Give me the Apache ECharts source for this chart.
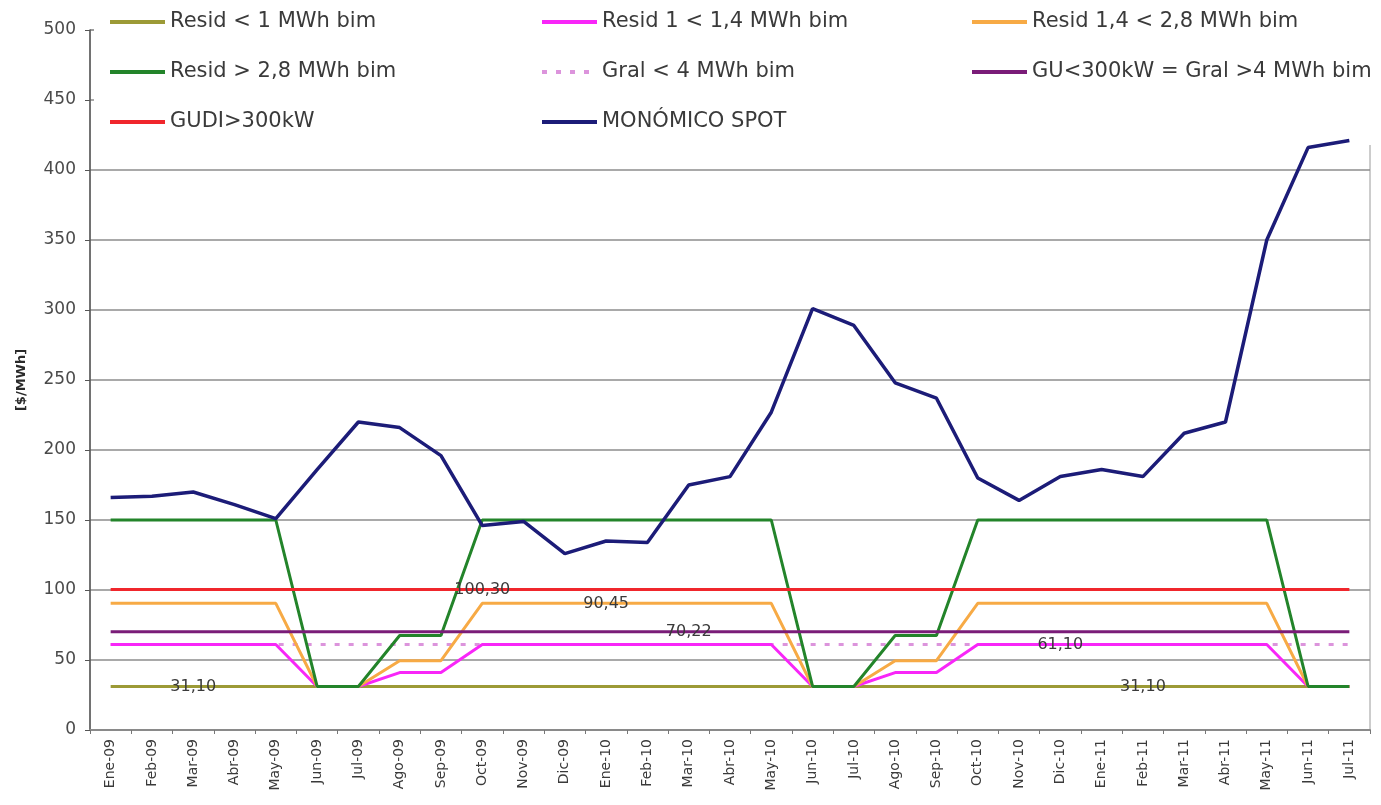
<!DOCTYPE html>
<html>
<head>
<meta charset="utf-8">
<script src="https://cdn.jsdelivr.net/npm/echarts@6/dist/echarts.min.js"></script>
<style>
  html, body { margin: 0; padding: 0; background: #ffffff; }
  #chart { width: 1381px; height: 805px; }
</style>
</head>
<body>
<div id="chart"></div>
<script>
// ---------------- DATA ----------------
const categories = ['Ene-09','Feb-09','Mar-09','Abr-09','May-09','Jun-09','Jul-09','Ago-09','Sep-09','Oct-09','Nov-09','Dic-09',
  'Ene-10','Feb-10','Mar-10','Abr-10','May-10','Jun-10','Jul-10','Ago-10','Sep-10','Oct-10','Nov-10','Dic-10',
  'Ene-11','Feb-11','Mar-11','Abr-11','May-11','Jun-11','Jul-11'];

const yTicks = [0, 50, 100, 150, 200, 250, 300, 350, 400, 450, 500];

const residLt1 = [31.1,31.1,31.1,31.1,31.1,31.1,31.1,31.1,31.1,31.1,31.1,31.1,31.1,31.1,31.1,31.1,31.1,31.1,31.1,31.1,31.1,31.1,31.1,31.1,31.1,31.1,31.1,31.1,31.1,31.1,31.1];
const resid1to14 = [61.1,61.1,61.1,61.1,61.1,31.1,31.1,41,41,61.1,61.1,61.1,61.1,61.1,61.1,61.1,61.1,31.1,31.1,41,41,61.1,61.1,61.1,61.1,61.1,61.1,61.1,61.1,31.1,31.1];
const resid14to28 = [90.45,90.45,90.45,90.45,90.45,31.1,31.1,49.5,49.5,90.45,90.45,90.45,90.45,90.45,90.45,90.45,90.45,31.1,31.1,49.5,49.5,90.45,90.45,90.45,90.45,90.45,90.45,90.45,90.45,31.1,31.1];
const residGt28 = [150,150,150,150,150,31.1,31.1,67.5,67.5,150,150,150,150,150,150,150,150,31.1,31.1,67.5,67.5,150,150,150,150,150,150,150,150,31.1,31.1];
const gralLt4 = [61.1,61.1,61.1,61.1,61.1,61.1,61.1,61.1,61.1,61.1,61.1,61.1,61.1,61.1,61.1,61.1,61.1,61.1,61.1,61.1,61.1,61.1,61.1,61.1,61.1,61.1,61.1,61.1,61.1,61.1,61.1];
const guLt300 = [70.22,70.22,70.22,70.22,70.22,70.22,70.22,70.22,70.22,70.22,70.22,70.22,70.22,70.22,70.22,70.22,70.22,70.22,70.22,70.22,70.22,70.22,70.22,70.22,70.22,70.22,70.22,70.22,70.22,70.22,70.22];
const gudiGt300 = [100.3,100.3,100.3,100.3,100.3,100.3,100.3,100.3,100.3,100.3,100.3,100.3,100.3,100.3,100.3,100.3,100.3,100.3,100.3,100.3,100.3,100.3,100.3,100.3,100.3,100.3,100.3,100.3,100.3,100.3,100.3];
const monomicoSpot = [166,167,170,161,151,186,220,216,196,146,149,126,135,134,175,181,227,301,289,248,237,180,164,181,186,181,212,220,350,416,421];

// which points carry a value label: [series name, category index]
const labelMarks = [
  ['Resid < 1 MWh bim', 2],
  ['GUDI>300kW', 9],
  ['Resid 1,4 < 2,8 MWh bim', 12],
  ['GU<300kW = Gral >4 MWh bim', 14],
  ['Resid 1 < 1,4 MWh bim', 23],
  ['Resid < 1 MWh bim', 25]
];

// ---------------- CHART ----------------
const FONT = 'DejaVu Sans';

const defs = [
  { name: 'Resid < 1 MWh bim', data: residLt1, color: '#9c9a36', width: 3 },
  { name: 'Gral < 4 MWh bim', data: gralLt4, color: '#dc94dc', width: 3, dash: [5, 9] },
  { name: 'Resid 1 < 1,4 MWh bim', data: resid1to14, color: '#f826f8', width: 3 },
  { name: 'Resid 1,4 < 2,8 MWh bim', data: resid14to28, color: '#f7aa45', width: 3 },
  { name: 'Resid > 2,8 MWh bim', data: residGt28, color: '#23842a', width: 3 },
  { name: 'GU<300kW = Gral >4 MWh bim', data: guLt300, color: '#7a1c78', width: 3 },
  { name: 'GUDI>300kW', data: gudiGt300, color: '#f0262c', width: 3 },
  { name: 'MONÓMICO SPOT', data: monomicoSpot, color: '#1c1c78', width: 3.5 }
];

function fmt(v) { return v.toFixed(2).replace('.', ','); }

const series = defs.map(d => {
  const marks = labelMarks.filter(m => m[0] === d.name).map(m => ({
    coord: [categories[m[1]], d.data[m[1]]],
    value: d.data[m[1]]
  }));
  const s = {
    name: d.name,
    type: 'line',
    symbol: 'none',
    showSymbol: false,
    animation: false,
    silent: true,
    color: d.color,
    lineStyle: { color: d.color, width: d.width, type: d.dash ? d.dash : 'solid' },
    emphasis: { disabled: true },
    data: d.data
  };
  if (marks.length) {
    s.markPoint = {
      symbol: 'circle',
      symbolSize: 0,
      silent: true,
      animation: false,
      label: {
        show: true,
        position: 'inside',
        color: '#3a3a3a',
        fontFamily: FONT,
        fontSize: 16,
        formatter: p => fmt(p.value)
      },
      data: marks
    };
  }
  return s;
});

const legendBase = {
  orient: 'vertical',
  top: 10,
  padding: 0,
  itemWidth: 55,
  itemHeight: 14,
  itemGap: 26,
  selectedMode: false,
  itemStyle: { opacity: 0 },
  lineStyle: { opacity: 1, width: 4 },
  textStyle: { fontFamily: FONT, fontSize: 21, color: '#3a3a3a', lineHeight: 24 }
};

const option = {
  backgroundColor: '#ffffff',
  animation: false,
  grid: {
    left: 90, right: 11, top: 30, bottom: 75,
    show: true, borderColor: '#9a9a9a', borderWidth: 1,
    outerBoundsMode: 'none', containLabel: false
  },
  graphic: [{
    type: 'rect',
    z: 1,
    shape: { x: 94, y: 0, width: 1287, height: 145 },
    style: { fill: '#ffffff' },
    silent: true
  }],
  legend: [
    Object.assign({}, legendBase, { left: 108, data: ['Resid < 1 MWh bim', 'Resid > 2,8 MWh bim', 'GUDI>300kW'] }),
    Object.assign({}, legendBase, { left: 540, data: ['Resid 1 < 1,4 MWh bim', 'Gral < 4 MWh bim', 'MONÓMICO SPOT'] }),
    Object.assign({}, legendBase, { left: 970, data: ['Resid 1,4 < 2,8 MWh bim', 'GU<300kW = Gral >4 MWh bim'] })
  ],
  xAxis: {
    type: 'category',
    data: categories,
    boundaryGap: true,
    axisLine: { lineStyle: { color: '#8a8a8a', width: 2 } },
    axisTick: { show: true, length: 4, alignWithLabel: false, interval: 0, lineStyle: { color: '#777' } },
    axisLabel: { interval: 0, rotate: 90, margin: 9, fontFamily: FONT, fontSize: 14, color: '#3a3a3a' },
    splitLine: { show: false }
  },
  yAxis: {
    type: 'value',
    min: yTicks[0],
    max: yTicks[yTicks.length - 1],
    interval: yTicks[1] - yTicks[0],
    name: '[$/MWh]',
    nameLocation: 'middle',
    nameGap: 62,
    nameRotate: 90,
    nameTextStyle: { fontFamily: FONT, fontSize: 13, fontWeight: 'bold', color: '#2a2a2a' },
    axisLine: { show: true, lineStyle: { color: '#555', width: 1.5 } },
    axisTick: { show: true, length: 5, lineStyle: { color: '#555' } },
    axisLabel: { margin: 14, fontFamily: FONT, fontSize: 17, color: '#4a4a4a' },
    splitLine: { show: true, lineStyle: { color: '#8c8c8c', width: 1.5 } }
  },
  series: series
};

const chart = echarts.init(document.getElementById('chart'), null, { renderer: 'canvas' });
chart.setOption(option);
</script>
</body>
</html>
